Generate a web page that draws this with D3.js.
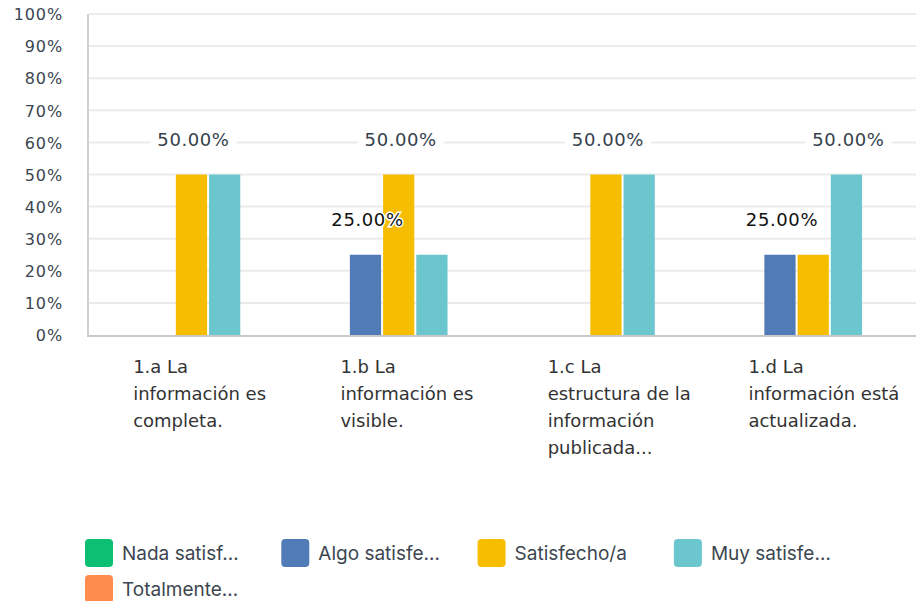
<!DOCTYPE html>
<html>
<head>
<meta charset="utf-8">
<script src="https://cdn.jsdelivr.net/npm/d3@7"></script>
<style>
  html, body { margin: 0; padding: 0; background: #fff; }
  svg { display: block; }
</style>
</head>
<body>
<svg id="chart" width="916" height="601"></svg>
<script>
// Survey categories (wrapped into lines as shown under each group)
const categories = ["1.a", "1.b", "1.c", "1.d"];
const categoryLines = [
  ["1.a La", "información es", "completa."],
  ["1.b La", "información es", "visible."],
  ["1.c La", "estructura de la", "información", "publicada..."],
  ["1.d La", "información está", "actualizada."]
];

// Answer options (legend order) and their colours
const seriesNames = ["Nada satisf…", "Algo satisfe…", "Satisfecho/a", "Muy satisfe…", "Totalmente…"];
const seriesColors = ["#0dbf72", "#507bb7", "#f7bd00", "#6cc6cd", "#ff8c4f"];

// Percentage of answers per option, one value per category
const nadaValues       = [0, 0, 0, 0];
const algoValues       = [0, 25, 0, 25];
const satisfechoValues = [50, 50, 50, 25];
const muyValues        = [50, 25, 50, 50];
const totalmenteValues = [0, 0, 0, 0];
const seriesValues = [nadaValues, algoValues, satisfechoValues, muyValues, totalmenteValues];

// Y axis ticks
const yTicks = [0, 10, 20, 30, 40, 50, 60, 70, 80, 90, 100];
const yTickLabels = ["0%", "10%", "20%", "30%", "40%", "50%", "60%", "70%", "80%", "90%", "100%"];

const svg = d3.select("#chart");

const x0 = d3.scaleBand().domain(categories).range([88, 917]).padding(0);
const x1 = d3.scaleBand().domain(d3.range(seriesNames.length))
  .range([21.4, 185.5]).paddingInner(0.06).paddingOuter(0);
const y = d3.scaleLinear().domain([0, 100]).range([335, 14]);

// Gridlines
svg.append("g").selectAll("line").data(yTicks.filter(t => t > 0)).join("line")
  .attr("x1", 89).attr("x2", 916)
  .attr("y1", d => y(d)).attr("y2", d => y(d))
  .attr("stroke", "#ebebeb").attr("stroke-width", 2);

// Y axis labels
const yAxis = d3.axisLeft(y).tickValues(yTicks).tickSize(0).tickPadding(0)
  .tickFormat((d, i) => yTickLabels[i]);
const yg = svg.append("g").attr("transform", "translate(63,0)").call(yAxis);
yg.select(".domain").remove();
yg.selectAll("text")
  .attr("font-family", "DejaVu Sans, sans-serif")
  .attr("font-size", 16)
  .attr("letter-spacing", 0.9)
  .attr("fill", "#3b4650")
  .attr("dy", "0.36em");

// Value labels: one per distinct value in each group, at the first bar carrying it
const labels = [];
categories.forEach((c, ci) => {
  const seen = new Set();
  const groupMax = d3.max(seriesValues, s => s[ci]);
  seriesValues.forEach((vals, si) => {
    const v = vals[ci];
    if (v > 0 && !seen.has(v)) {
      seen.add(v);
      labels.push({ c, si, v, isMax: v === groupMax });
    }
  });
});
const labelX = d => x0(d.c) + x1(d.si) + x1.bandwidth() / 2 + 2;
const labelY = d => y(d.v) - 29;

// White boxes behind labels
const labelLayer = svg.append("g");
const tmp = labelLayer.selectAll("text.tmp").data(labels).join("text")
  .attr("font-family", "DejaVu Sans, sans-serif").attr("font-size", 18)
  .attr("letter-spacing", 0.6)
  .text(d => d.v.toFixed(2) + "%");
const widths = [];
tmp.each(function () { widths.push(this.getComputedTextLength()); });
tmp.remove();
labelLayer.selectAll("rect").data(labels).join("rect")
  .attr("x", (d, i) => labelX(d) - widths[i] / 2 - 7)
  .attr("y", d => labelY(d) - 17)
  .attr("width", (d, i) => widths[i] + 14)
  .attr("height", 24)
  .attr("fill", "#fff");

// Bars
const groups = svg.append("g").selectAll("g").data(categories).join("g")
  .attr("transform", d => `translate(${x0(d)},0)`);
groups.selectAll("rect")
  .data((c, ci) => seriesValues.map((vals, si) => ({ si, v: vals[ci] })))
  .join("rect")
  .attr("x", d => x1(d.si))
  .attr("width", x1.bandwidth())
  .attr("y", d => y(d.v))
  .attr("height", d => y(0) - y(d.v))
  .attr("fill", d => seriesColors[d.si]);

// Axis lines
svg.append("line").attr("x1", 88).attr("x2", 88).attr("y1", 14).attr("y2", 336)
  .attr("stroke", "#d0d0d0").attr("stroke-width", 2);
svg.append("line").attr("x1", 87).attr("x2", 916).attr("y1", 336).attr("y2", 336)
  .attr("stroke", "#c8c8c8").attr("stroke-width", 2);

// Label text
svg.append("g").selectAll("text").data(labels).join("text")
  .attr("x", labelX).attr("y", labelY)
  .attr("text-anchor", "middle")
  .attr("font-family", "DejaVu Sans, sans-serif").attr("font-size", 18)
  .attr("letter-spacing", 0.6)
  .attr("fill", d => d.isMax ? "#36414c" : "#111")
  .attr("stroke", "#fff").attr("stroke-width", 3).attr("paint-order", "stroke")
  .text(d => d.v.toFixed(2) + "%");

// Category labels: lines left-aligned from a fixed indent, pulled left when too wide
categories.forEach((c, ci) => {
  const g = svg.append("g");
  const t = g.selectAll("text").data(categoryLines[ci]).join("text")
    .attr("y", (d, i) => 373 + i * 27)
    .attr("font-family", "DejaVu Sans, sans-serif").attr("font-size", 18)
    .attr("fill", "#333")
    .text(d => d);
  let w = 0;
  t.each(function () { w = Math.max(w, this.getComputedTextLength()); });
  const cx = x0(c) + x0.bandwidth() / 2;
  const left = Math.min(cx - 58.5, cx + 86 - w);
  t.attr("x", left);
});

// Legend
const legend = svg.append("g").selectAll("g").data(seriesNames).join("g")
  .attr("transform", (d, i) => `translate(${85 + (i % 4) * 196.3},${539 + Math.floor(i / 4) * 36})`);
legend.append("rect").attr("width", 28).attr("height", 28).attr("rx", 4)
  .attr("fill", (d, i) => seriesColors[i]);
legend.append("text").attr("x", 37).attr("y", 14).attr("dy", "0.36em")
  .attr("font-family", "Inter, sans-serif").attr("font-size", 19)
  .attr("fill", "#3c4650")
  .text(d => d);
</script>
</body>
</html>
